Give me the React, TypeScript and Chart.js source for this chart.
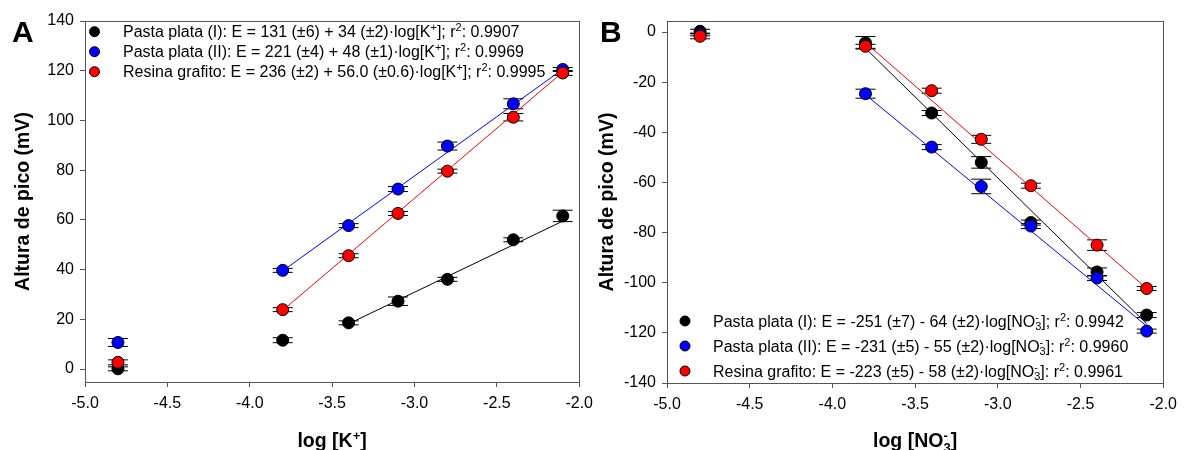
import React, { useEffect, useRef } from "react";
import { Chart, registerables } from "chart.js";

Chart.register(...registerables);

const FONT = '"Liberation Sans", Arial, Helvetica, sans-serif';

// ---------- data ----------
const xLevels = [-4.8, -3.8, -3.4, -3.1, -2.8, -2.4, -2.1];
const xTicks = [-5.0, -4.5, -4.0, -3.5, -3.0, -2.5, -2.0];
const yTicksA = [0, 20, 40, 60, 80, 100, 120, 140];
const yTicksB = [-140, -120, -100, -80, -60, -40, -20, 0];

// Panel A: log[K+]
const kPastaI = [0.1, 11.6, 18.6, 27.3, 36.1, 52.0, 61.6];
const kPastaIErr = [0.8, 1.0, 0.8, 1.7, 0.8, 0.8, 2.3];
const kPastaII = [10.7, 39.7, 57.7, 72.4, 89.7, 106.7, 120.5];
const kPastaIIErr = [1.6, 0.8, 0.8, 1.0, 1.6, 2.0, 0.8];
const kResina = [2.7, 23.9, 45.6, 62.6, 79.6, 101.3, 119.1];
const kResinaErr = [1.0, 0.8, 0.8, 0.8, 0.8, 1.5, 1.0];

const kFitXI = [-3.4, -2.1];
const kFitYI = [18.2, 59.5];
const kFitXII = [-3.8, -2.1];
const kFitYII = [39.5, 120.6];
const kFitXR = [-3.8, -2.1];
const kFitYR = [23.6, 119.4];

// Panel B: log[NO3-]
const nPastaI = [0.3, -4.3, -32.3, -52.0, -76.0, -95.7, -112.9];
const nPastaIErr = [0.8, 2.5, 1.0, 2.3, 1.0, 1.6, 1.0];
const nPastaII = [-1.0, -24.6, -45.9, -61.6, -77.4, -98.1, -119.3];
const nPastaIIErr = [0.5, 1.8, 1.0, 2.9, 1.0, 1.0, 0.8];
const nResina = [-1.7, -5.7, -23.4, -42.8, -61.3, -85.0, -102.3];
const nResinaErr = [1.0, 0.8, 1.0, 1.6, 1.0, 2.1, 0.8];

const nFitX = [-3.8, -2.1];
const nFitYI = [-6.5, -116.4];
const nFitYII = [-25.0, -117.3];
const nFitYR = [-4.2, -102.3];

type Seg = { t?: string; sup?: string; sub?: string };

const legendA: Seg[][] = [
  [{ t: "Pasta plata (I): E = 131 (±6) + 34 (±2)·log[K" }, { sup: "+" }, { t: "]; r" }, { sup: "2" }, { t: ": 0.9907" }],
  [{ t: "Pasta plata (II): E = 221 (±4) + 48 (±1)·log[K" }, { sup: "+" }, { t: "]; r" }, { sup: "2" }, { t: ": 0.9969" }],
  [{ t: "Resina grafito: E = 236 (±2) + 56.0 (±0.6)·log[K" }, { sup: "+" }, { t: "]; r" }, { sup: "2" }, { t: ": 0.9995" }],
];
const legendB: Seg[][] = [
  [{ t: "Pasta plata (I): E = -251 (±7) - 64 (±2)·log[NO" }, { sub: "3", sup: "-" }, { t: "]; r" }, { sup: "2" }, { t: ": 0.9942" }],
  [{ t: "Pasta plata (II): E = -231 (±5) - 55 (±2)·log[NO" }, { sub: "3", sup: "-" }, { t: "]: r" }, { sup: "2" }, { t: ": 0.9960" }],
  [{ t: "Resina grafito: E = -223 (±5) - 58 (±2)·log[NO" }, { sub: "3", sup: "-" }, { t: "]: r" }, { sup: "2" }, { t: ": 0.9961" }],
];
const xTitleA: Seg[] = [{ t: "log [K" }, { sup: "+" }, { t: "]" }];
const xTitleB: Seg[] = [{ t: "log [NO" }, { sub: "3", sup: "-" }, { t: "]" }];
const yTitle = "Altura de pico (mV)";

const COLORS = ["#000000", "#0000ff", "#ff0000"];

// ---------- helpers ----------
function drawRich(
  ctx: CanvasRenderingContext2D,
  x: number,
  y: number,
  segs: Seg[],
  size: number,
  weight: string,
  align: "left" | "center"
) {
  const main = `${weight} ${size}px ${FONT}`;
  const small = `${weight} ${Math.round(size * 0.68)}px ${FONT}`;
  const widths = segs.map((s) => {
    if (s.t !== undefined) {
      ctx.font = main;
      return ctx.measureText(s.t).width;
    }
    ctx.font = small;
    return Math.max(
      s.sup ? ctx.measureText(s.sup).width : 0,
      s.sub ? ctx.measureText(s.sub).width : 0
    );
  });
  const total = widths.reduce((a, b) => a + b, 0);
  let cx = align === "center" ? x - total / 2 : x;
  ctx.textAlign = "left";
  ctx.textBaseline = "alphabetic";
  ctx.fillStyle = "#000";
  segs.forEach((s, i) => {
    if (s.t !== undefined) {
      ctx.font = main;
      ctx.fillText(s.t, cx, y);
    } else {
      ctx.font = small;
      if (s.sup) ctx.fillText(s.sup, cx, y - size * 0.38);
      if (s.sub) ctx.fillText(s.sub, cx, y + size * 0.24);
    }
    cx += widths[i];
  });
}

type PanelSpec = {
  left: number;
  width: number;
  axisWidth: number;
  padRight: number;
  padTop: number;
  xAxisHeight: number;
  yMin: number;
  yMax: number;
  yTicks: number[];
  series: { y: number[]; err: number[] }[];
  fits: { x: number[]; y: number[] }[];
  legend: Seg[][];
  legendMarkerX: number;
  legendTextX: number;
  legendRowY: number[];
  xTitle: Seg[];
  yTitleX: number;
  letter: string;
  letterX: number;
};

function buildConfig(p: PanelSpec): any {
  const pointSets = p.series
    .map((s, k) => ({
      type: "scatter",
      data: xLevels.map((x, i) => ({ x, y: s.y[i] })),
      errors: s.err,
      pointRadius: 6,
      pointHoverRadius: 6,
      pointBackgroundColor: COLORS[k],
      pointBorderColor: "#000",
      pointBorderWidth: 1,
      showLine: false,
    }))
    .reverse();
  const fitSets = p.fits.map((f, k) => ({
    type: "scatter",
    data: f.x.map((x, i) => ({ x, y: f.y[i] })),
    showLine: true,
    borderColor: COLORS[k],
    borderWidth: 1,
    pointRadius: 0,
    pointHoverRadius: 0,
    fill: false,
  }));

  const decor = {
    id: "decor" + p.letter,
    beforeDatasetsDraw(chart: any) {
      const ctx: CanvasRenderingContext2D = chart.ctx;
      const a = chart.chartArea;
      const ys = chart.scales.y;
      ctx.save();
      // frame
      ctx.strokeStyle = "#555";
      ctx.lineWidth = 1;
      ctx.strokeRect(Math.round(a.left) + 0.5, Math.round(a.top) + 0.5, Math.round(a.right - a.left), Math.round(a.bottom - a.top));
      // error bars
      ctx.strokeStyle = "#000";
      chart.data.datasets.forEach((ds: any, di: number) => {
        if (!ds.errors) return;
        const meta = chart.getDatasetMeta(di);
        meta.data.forEach((el: any, j: number) => {
          const v = ds.data[j].y;
          const e = ds.errors[j];
          const yt = ys.getPixelForValue(v + e);
          const yb = ys.getPixelForValue(v - e);
          const x = el.x;
          ctx.beginPath();
          ctx.moveTo(x, yt);
          ctx.lineTo(x, yb);
          ctx.moveTo(x - 10, yt);
          ctx.lineTo(x + 10, yt);
          ctx.moveTo(x - 10, yb);
          ctx.lineTo(x + 10, yb);
          ctx.stroke();
        });
      });
      ctx.restore();
    },
    afterDraw(chart: any) {
      const ctx: CanvasRenderingContext2D = chart.ctx;
      const a = chart.chartArea;
      ctx.save();
      // legend
      p.legend.forEach((row, i) => {
        const ry = p.legendRowY[i];
        ctx.beginPath();
        ctx.arc(p.legendMarkerX, ry, 5, 0, Math.PI * 2);
        ctx.fillStyle = COLORS[i];
        ctx.fill();
        ctx.strokeStyle = "#000";
        ctx.lineWidth = 1;
        ctx.stroke();
        drawRich(ctx, p.legendTextX, ry + 5.6, row, 16, "normal", "left");
      });
      // x title
      drawRich(ctx, (a.left + a.right) / 2, 447, p.xTitle, 19.5, "bold", "center");
      // y title
      ctx.save();
      ctx.translate(p.yTitleX, (a.top + a.bottom) / 2);
      ctx.rotate(-Math.PI / 2);
      ctx.font = `bold 19.5px ${FONT}`;
      ctx.textAlign = "center";
      ctx.textBaseline = "middle";
      ctx.fillStyle = "#000";
      ctx.fillText(yTitle, 0, 0);
      ctx.restore();
      // panel letter
      ctx.font = `bold 30px ${FONT}`;
      ctx.textAlign = "left";
      ctx.textBaseline = "alphabetic";
      ctx.fillStyle = "#000";
      ctx.fillText(p.letter, p.letterX, 42);
      ctx.restore();
    },
  };

  return {
    type: "scatter",
    data: { datasets: [...pointSets, ...fitSets] },
    options: {
      responsive: false,
      animation: false,
      devicePixelRatio: 1,
      layout: { padding: { left: 0, right: p.padRight, top: p.padTop, bottom: 0 } },
      plugins: { legend: { display: false }, tooltip: { enabled: false } },
      events: [],
      scales: {
        x: {
          type: "linear",
          min: -5,
          max: -2,
          afterBuildTicks: (s: any) => {
            s.ticks = xTicks.map((v) => ({ value: v }));
          },
          afterFit: (s: any) => {
            s.height = p.xAxisHeight;
          },
          ticks: {
            color: "#000",
            font: { family: FONT, size: 16 },
            padding: 7,
            maxRotation: 0,
            callback: (v: any) => Number(v).toFixed(1),
          },
          grid: { display: true, drawOnChartArea: false, drawTicks: true, tickLength: 5, color: "#555" },
          border: { display: false },
        },
        y: {
          type: "linear",
          min: p.yMin,
          max: p.yMax,
          afterBuildTicks: (s: any) => {
            s.ticks = p.yTicks.map((v) => ({ value: v }));
          },
          afterFit: (s: any) => {
            s.width = p.axisWidth;
          },
          ticks: {
            color: "#000",
            font: { family: FONT, size: 16 },
            padding: 6,
            callback: (v: any) => String(v),
          },
          grid: { display: true, drawOnChartArea: false, drawTicks: true, tickLength: 5, color: "#555" },
          border: { display: false },
        },
      },
    },
    plugins: [decor],
  };
}

const panelA: PanelSpec = {
  left: 0,
  width: 600,
  axisWidth: 85,
  padRight: 20,
  padTop: 21,
  xAxisHeight: 68,
  yMin: -5.2,
  yMax: 140,
  yTicks: yTicksA,
  series: [
    { y: kPastaI, err: kPastaIErr },
    { y: kPastaII, err: kPastaIIErr },
    { y: kResina, err: kResinaErr },
  ],
  fits: [
    { x: kFitXI, y: kFitYI },
    { x: kFitXII, y: kFitYII },
    { x: kFitXR, y: kFitYR },
  ],
  legend: legendA,
  legendMarkerX: 94.5,
  legendTextX: 123,
  legendRowY: [31.7, 51.7, 71.7],
  xTitle: xTitleA,
  yTitleX: 24,
  letter: "A",
  letterX: 12,
};

const panelB: PanelSpec = {
  left: 592,
  width: 592,
  axisWidth: 75,
  padRight: 17,
  padTop: 21,
  xAxisHeight: 67,
  yMin: -140,
  yMax: 4.4,
  yTicks: yTicksB,
  series: [
    { y: nPastaI, err: nPastaIErr },
    { y: nPastaII, err: nPastaIIErr },
    { y: nResina, err: nResinaErr },
  ],
  fits: [
    { x: nFitX, y: nFitYI },
    { x: nFitX, y: nFitYII },
    { x: nFitX, y: nFitYR },
  ],
  legend: legendB,
  legendMarkerX: 93,
  legendTextX: 121,
  legendRowY: [321, 346, 371],
  xTitle: xTitleB,
  yTitleX: 16,
  letter: "B",
  letterX: 8,
};

function Panel({ spec }: { spec: PanelSpec }) {
  const ref = useRef<HTMLCanvasElement | null>(null);
  useEffect(() => {
    if (!ref.current) return;
    const chart = new Chart(ref.current, buildConfig(spec));
    return () => chart.destroy();
  }, [spec]);
  return (
    <div style={{ position: "absolute", left: spec.left, top: 0, width: spec.width, height: 450 }}>
      <canvas ref={ref} width={spec.width} height={450} style={{ width: spec.width, height: 450, display: "block" }} />
    </div>
  );
}

export default function App() {
  return (
    <div style={{ position: "fixed", left: 0, top: 0, width: 1184, height: 450, background: "#fff", overflow: "hidden" }}>
      <Panel spec={panelA} />
      <Panel spec={panelB} />
    </div>
  );
}
